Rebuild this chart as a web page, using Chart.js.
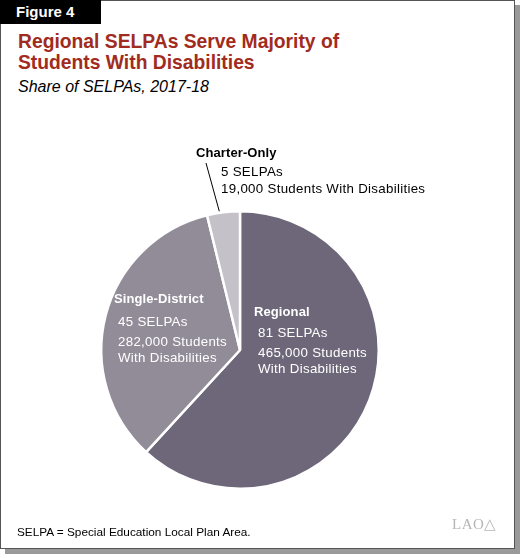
<!DOCTYPE html>
<html>
<head>
<meta charset="utf-8">
<script src="https://cdn.jsdelivr.net/npm/chart.js"></script>
<style>
  html, body { margin: 0; padding: 0; background: #fff; }
  body { width: 520px; height: 558px; position: relative; overflow: hidden;
         font-family: "Liberation Sans", Arial, Helvetica, sans-serif; }
  #shadow { position: absolute; left: 5px; top: 5px; width: 515px; height: 549px; background: #9a9a9a; }
  #frame { position: absolute; left: 0; top: 0; width: 513px; height: 547px; background: #fff;
           border: 1px solid #555; }
  #fig { position: absolute; left: 0; top: 0; width: 101px; height: 24px; background: #000;
         color: #fff; font-weight: bold; font-size: 15px; line-height: 24px; padding-left: 16px; box-sizing: border-box; }
  #title { position: absolute; left: 18px; top: 31px; color: #a12b20; font-weight: bold;
           font-size: 19.3px; line-height: 21px; }
  #sub { position: absolute; left: 18px; top: 78px; font-style: italic; font-size: 16px; color: #000; }
  #note { position: absolute; left: 17px; top: 525px; font-size: 11.8px; color: #000; }
  #logo { position: absolute; left: 452px; top: 515px; font-family: "Liberation Serif", serif;
          font-size: 15px; color: #b5b5b5; letter-spacing: 0.5px; }
  #wrap { position: absolute; left: 0; top: 0; width: 520px; height: 558px; }
  .lab { position: absolute; font-size: 13.3px; letter-spacing: 0.3px; line-height: 16px; white-space: nowrap; }
  .lab b { display: block; font-size: 13px; letter-spacing: 0.1px; margin-bottom: 4px; }
  .w { color: #fff; }
</style>
</head>
<body>
<div id="shadow"></div>
<div id="frame"></div>
<div id="fig">Figure 4</div>
<div id="title">Regional SELPAs Serve Majority of<br>Students With Disabilities</div>
<div id="sub">Share of SELPAs, 2017-18</div>
<div id="wrap"><canvas id="pie" width="520" height="558"></canvas></div>

<div class="lab" style="left:196px; top:145px;"><b>Charter-Only</b></div>
<div class="lab" style="left:221px; top:164px;">5 SELPAs</div>
<div class="lab" style="left:221px; top:181px;">19,000 Students With Disabilities</div>

<div class="lab w" style="left:114px; top:291px;"><b>Single-District</b></div>
<div class="lab w" style="left:118px; top:314px;">45 SELPAs</div>
<div class="lab w" style="left:118px; top:334px;">282,000 Students<br>With Disabilities</div>

<div class="lab w" style="left:254px; top:304px;"><b>Regional</b></div>
<div class="lab w" style="left:258px; top:325px;">81 SELPAs</div>
<div class="lab w" style="left:258px; top:345px;">465,000 Students<br>With Disabilities</div>

<div id="note">SELPA = Special Education Local Plan Area.</div>
<div id="logo">LAO&#9651;</div>

<script>
const categories = ['Regional', 'Single-District', 'Charter-Only'];
const selpaCounts = [81, 45, 5];
const sliceColors = ['#6d6779', '#928c99', '#c4c1c8'];

// leader line from the Charter-Only label to its slice
const leaderLine = {
  id: 'leaderLine',
  afterDatasetsDraw(chart) {
    const arc = chart.getDatasetMeta(0).data[2];
    const mid = (arc.startAngle + arc.endAngle) / 2;
    const ex = arc.x + Math.cos(mid) * (arc.outerRadius + 1);
    const ey = arc.y + Math.sin(mid) * (arc.outerRadius + 1);
    const ctx = chart.ctx;
    ctx.save();
    ctx.strokeStyle = '#000';
    ctx.lineWidth = 1;
    ctx.beginPath();
    ctx.moveTo(206, 163);
    ctx.lineTo(ex - 4, ey);
    ctx.stroke();
    ctx.restore();
  }
};

new Chart(document.getElementById('pie'), {
  type: 'pie',
  data: {
    labels: categories,
    datasets: [{
      data: selpaCounts,
      backgroundColor: sliceColors,
      borderColor: '#fff',
      borderWidth: 2.5
    }]
  },
  options: {
    responsive: false,
    animation: false,
    layout: { padding: { left: 100, right: 140, top: 210, bottom: 68 } },
    plugins: { legend: { display: false }, tooltip: { enabled: false } }
  },
  plugins: [leaderLine]
});
</script>
</body>
</html>
